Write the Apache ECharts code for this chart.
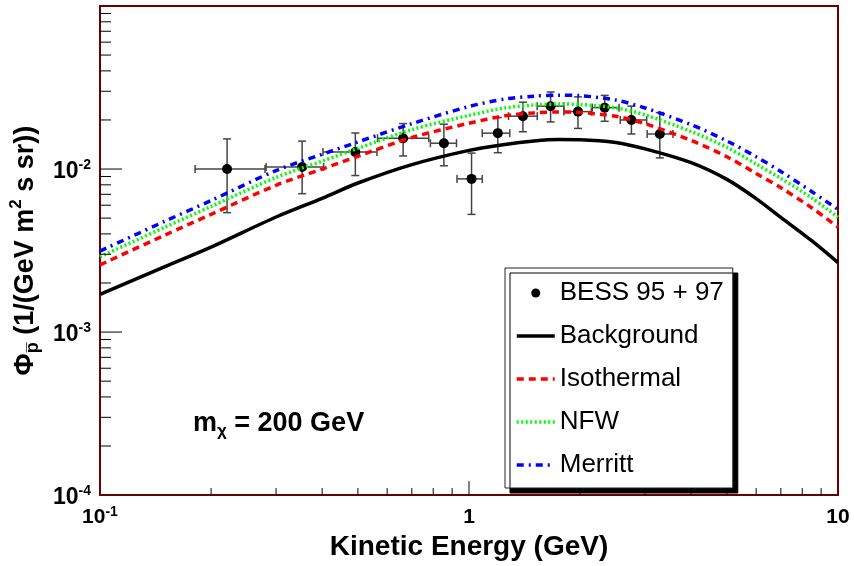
<!DOCTYPE html>
<html>
<head>
<meta charset="utf-8">
<script src="https://cdn.jsdelivr.net/npm/echarts@6/dist/echarts.min.js"></script>
<style>
html,body{margin:0;padding:0;background:#fff;}
#c{width:854px;height:566px;}
</style>
</head>
<body>
<div id="c"></div>
<script>
// ---- data ----
const energy = [0.1, 0.15, 0.2, 0.3, 0.4, 0.5, 0.7, 1.0, 1.25, 1.5, 1.75, 2.0, 2.5, 3.0, 4.0, 5.0, 6.0, 7.0, 8.5, 10.0];
const background = [1.701e-3, 2.522e-3, 3.318e-3, 5.078e-3, 6.615e-3, 8.21e-3, 1.065e-2, 1.302e-2, 1.416e-2, 1.487e-2, 1.518e-2, 1.514e-2, 1.456e-2, 1.330e-2, 1.095e-2, 8.64e-3, 6.59e-3, 5.05e-3, 3.62e-3, 2.667e-3];
const isothermal = [2.583e-3, 3.937e-3, 5.273e-3, 7.95e-3, 1.000e-2, 1.198e-2, 1.561e-2, 1.910e-2, 2.120e-2, 2.210e-2, 2.241e-2, 2.225e-2, 2.106e-2, 1.897e-2, 1.497e-2, 1.190e-2, 9.39e-3, 7.68e-3, 5.772e-3, 4.400e-3];
const nfw = [2.899e-3, 4.400e-3, 5.893e-3, 8.88e-3, 1.118e-2, 1.339e-2, 1.745e-2, 2.134e-2, 2.369e-2, 2.470e-2, 2.505e-2, 2.488e-2, 2.369e-2, 2.149e-2, 1.697e-2, 1.358e-2, 1.072e-2, 8.76e-3, 6.635e-3, 5.057e-3];
const merritt = [3.139e-3, 4.785e-3, 6.407e-3, 9.79e-3, 1.232e-2, 1.466e-2, 1.897e-2, 2.419e-2, 2.685e-2, 2.800e-2, 2.840e-2, 2.820e-2, 2.649e-2, 2.369e-2, 1.871e-2, 1.487e-2, 1.190e-2, 9.66e-3, 7.26e-3, 5.653e-3];

const bessE   = [0.221, 0.353, 0.492, 0.663, 0.855, 1.016, 1.197, 1.40, 1.664, 1.974, 2.332, 2.755, 3.289];
const bessElo = [0.181, 0.282, 0.402, 0.565, 0.786, 0.928, 1.086, 1.28, 1.53, 1.808, 2.158, 2.57, 3.04];
const bessEhi = [0.280, 0.4035, 0.563, 0.778, 0.925, 1.086, 1.29, 1.531, 1.808, 2.146, 2.55, 3.03, 3.57];
const bessF   = [1.00e-2, 1.03e-2, 1.27e-2, 1.545e-2, 1.44e-2, 0.87e-2, 1.66e-2, 2.11e-2, 2.43e-2, 2.25e-2, 2.38e-2, 2.00e-2, 1.64e-2];
const bessFlo = [0.54e-2, 0.706e-2, 0.912e-2, 1.203e-2, 1.047e-2, 0.527e-2, 1.259e-2, 1.693e-2, 1.945e-2, 1.775e-2, 1.963e-2, 1.64e-2, 1.17e-2];
const bessFhi = [1.53e-2, 1.483e-2, 1.663e-2, 1.90e-2, 1.884e-2, 1.253e-2, 2.07e-2, 2.57e-2, 2.97e-2, 2.77e-2, 2.83e-2, 2.43e-2, 2.22e-2];

const X_MIN = 0.1, X_MAX = 10;
const Y_MIN = 1e-4, Y_MAX = 1e-1;
const xMajorTicks = [1];
const yMajorTicks = [1e-3, 1e-2];
const xMinorTicks = [0.2,0.3,0.4,0.5,0.6,0.7,0.8,0.9,2,3,4,5,6,7,8,9];
const yMinorTicks = [2e-4,3e-4,4e-4,5e-4,6e-4,7e-4,8e-4,9e-4,2e-3,3e-3,4e-3,5e-3,6e-3,7e-3,8e-3,9e-3,2e-2,3e-2,4e-2,5e-2,6e-2,7e-2,8e-2,9e-2];
const legendNames = ['BESS 95 + 97', 'Background', 'Isothermal', 'NFW', 'Merritt'];

// ---- chart ----
const FONT = 'Liberation Sans, Arial, Helvetica, sans-serif';
const chart = echarts.init(document.getElementById('c'), null, {renderer: 'canvas'});

function zip(a, b) { return a.map((v, i) => [v, b[i]]); }
const bessRows = bessE.map((e, i) => [e, bessF[i], bessElo[i], bessEhi[i], bessFlo[i], bessFhi[i]]);

function expLabel(v) {
  const e = Math.round(Math.log10(v));
  if (e === 0) return '{b|1}';
  if (e === 1) return '{b|10}';
  return '{b|10}{s|' + e + '}';
}
function richFor(size, sup) {
  return {
    b: {fontFamily: FONT, fontWeight: 'bold', fontSize: size, lineHeight: size + 4, color: '#000'},
    s: {fontFamily: FONT, fontWeight: 'bold', fontSize: sup, lineHeight: sup, verticalAlign: 'top', color: '#000'}
  };
}
function tickSeries(name, data, dx, dy) {
  return {
    name: name, type: 'custom', silent: true, clip: false, z: 5,
    data: data,
    renderItem: function (params, api) {
      const p = api.coord([api.value(0), api.value(1)]);
      return {type: 'line', shape: {x1: p[0], y1: p[1], x2: p[0] + dx, y2: p[1] + dy}, style: {stroke: '#000', lineWidth: 1}};
    }
  };
}
const hideSym = {opacity: 0};

const option = {
  animation: false,
  backgroundColor: '#fff',
  grid: {left: 100, right: 16, top: 6, bottom: 64, show: true, borderColor: '#6b0000', borderWidth: 2, backgroundColor: 'transparent'},
  title: {
    left: 188, top: 403,
    text: '{m|m}{sub|χ}{m| = 200 GeV}',
    textStyle: {
      rich: {
        m: {fontFamily: FONT, fontWeight: 'bold', fontSize: 27, lineHeight: 32, color: '#000'},
        sub: {fontFamily: FONT, fontWeight: 'bold', fontSize: 17, lineHeight: 17, verticalAlign: 'bottom', color: '#000'}
      }
    }
  },
  legend: {
    orient: 'vertical',
    left: 505, top: 268,
    padding: [12, 9, 10, 10],
    itemGap: 17,
    itemWidth: 38, itemHeight: 9,
    backgroundColor: '#fff',
    borderColor: '#222', borderWidth: 1,
    shadowColor: '#000', shadowBlur: 0, shadowOffsetX: 5, shadowOffsetY: 5,
    lineStyle: {width: 3.5},
    textStyle: {fontFamily: FONT, fontSize: 26, lineHeight: 26, color: '#000'},
    data: [
      {name: legendNames[0], icon: 'circle', itemStyle: {color: '#000', opacity: 1}},
      {name: legendNames[1], itemStyle: hideSym},
      {name: legendNames[2], itemStyle: hideSym},
      {name: legendNames[3], itemStyle: hideSym},
      {name: legendNames[4], itemStyle: hideSym}
    ]
  },
  xAxis: {
    type: 'log', logBase: 10, min: X_MIN, max: X_MAX,
    name: 'Kinetic Energy (GeV)', nameLocation: 'middle', nameGap: 33,
    nameTextStyle: {fontFamily: FONT, fontWeight: 'bold', fontSize: 28, color: '#000'},
    axisLine: {show: true, lineStyle: {color: '#6b0000', width: 2}},
    axisTick: {show: false},
    axisLabel: {margin: 10, formatter: expLabel, rich: richFor(21, 14)},
    splitLine: {show: false}
  },
  yAxis: {
    type: 'log', logBase: 10, min: Y_MIN, max: Y_MAX,
    name: '{t|Φ}{sub|p\u0305}{t| (1/(GeV m}{sup|2}{t| s sr))}',
    nameLocation: 'middle', nameGap: 55, nameRotate: 90,
    nameTextStyle: {
      rich: {
        t: {fontFamily: FONT, fontWeight: 'bold', fontSize: 27, lineHeight: 34, color: '#000'},
        sub: {fontFamily: FONT, fontWeight: 'bold', fontSize: 18, lineHeight: 18, verticalAlign: 'bottom', color: '#000'},
        sup: {fontFamily: FONT, fontWeight: 'bold', fontSize: 17, lineHeight: 17, verticalAlign: 'top', color: '#000'}
      }
    },
    axisLine: {show: true, lineStyle: {color: '#6b0000', width: 2}},
    axisTick: {show: false},
    axisLabel: {
      margin: 9,
      padding: [6, 0, 0, 0],
      formatter: function (v) { const e = Math.round(Math.log10(v)); return e === -1 ? '' : expLabel(v); },
      rich: richFor(23, 14)
    },
    splitLine: {show: false}
  },
  series: [
    tickSeries('xMajor', xMajorTicks.map(v => [v, Y_MIN]), 0, -14),
    tickSeries('xMinor', xMinorTicks.map(v => [v, Y_MIN]), 0, -7),
    tickSeries('yMajor', yMajorTicks.map(v => [X_MIN, v]), 22, 0),
    tickSeries('yMinor', yMinorTicks.map(v => [X_MIN, v]), 11, 0),
    {
      name: 'errors', type: 'custom', silent: true, z: 2,
      data: bessRows,
      renderItem: function (params, api) {
        const e = api.value(0), f = api.value(1);
        const c = api.coord([e, f]);
        const l = api.coord([api.value(2), f]);
        const r = api.coord([api.value(3), f]);
        const lo = api.coord([e, api.value(4)]);
        const hi = api.coord([e, api.value(5)]);
        const st = {stroke: '#444', lineWidth: 1.5};
        const cap = 4;
        return {type: 'group', children: [
          {type: 'line', shape: {x1: l[0], y1: c[1], x2: r[0], y2: c[1]}, style: st},
          {type: 'line', shape: {x1: c[0], y1: lo[1], x2: c[0], y2: hi[1]}, style: st},
          {type: 'line', shape: {x1: l[0], y1: c[1] - cap, x2: l[0], y2: c[1] + cap}, style: st},
          {type: 'line', shape: {x1: r[0], y1: c[1] - cap, x2: r[0], y2: c[1] + cap}, style: st},
          {type: 'line', shape: {x1: c[0] - cap, y1: lo[1], x2: c[0] + cap, y2: lo[1]}, style: st},
          {type: 'line', shape: {x1: c[0] - cap, y1: hi[1], x2: c[0] + cap, y2: hi[1]}, style: st}
        ]};
      }
    },
    {
      name: legendNames[0], type: 'scatter', z: 3,
      symbol: 'circle', symbolSize: 10,
      itemStyle: {color: '#000', opacity: 1},
      data: zip(bessE, bessF)
    },
    {
      name: legendNames[1], type: 'line', z: 4, smooth: 0.3, symbol: 'none',
      lineStyle: {color: '#000', width: 3.5, type: 'solid'}, itemStyle: {color: '#000'},
      data: zip(energy, background)
    },
    {
      name: legendNames[2], type: 'line', z: 4, smooth: 0.3, symbol: 'none',
      lineStyle: {color: '#ff0000', width: 3.5, type: [7, 5]}, itemStyle: {color: '#ff0000'},
      data: zip(energy, isothermal)
    },
    {
      name: legendNames[3], type: 'line', z: 4, smooth: 0.3, symbol: 'none',
      lineStyle: {color: '#00ff00', width: 3.5, type: [2, 2.5]}, itemStyle: {color: '#00ff00'},
      data: zip(energy, nfw)
    },
    {
      name: legendNames[4], type: 'line', z: 4, smooth: 0.3, symbol: 'none',
      lineStyle: {color: '#0000ff', width: 3.5, type: [7, 5, 2, 5]}, itemStyle: {color: '#0000ff'},
      data: zip(energy, merritt)
    }
  ]
};
chart.setOption(option);
</script>
</body>
</html>
